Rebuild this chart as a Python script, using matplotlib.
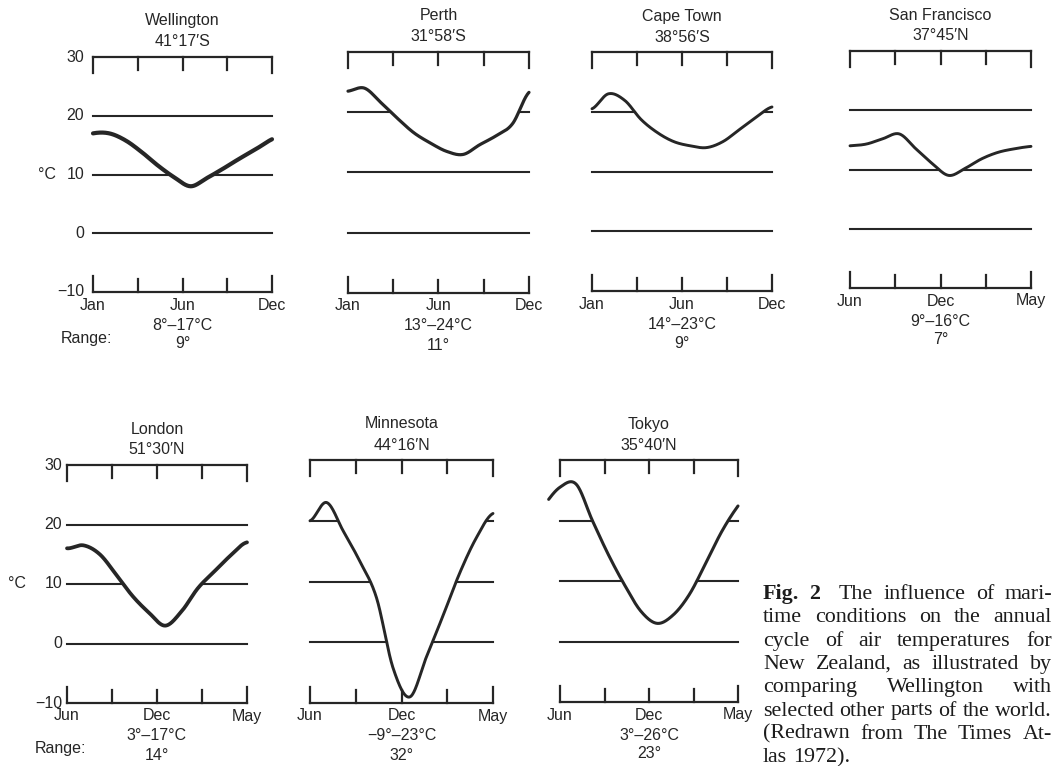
import numpy as np
import matplotlib
matplotlib.use("Agg")
import matplotlib.pyplot as plt
from matplotlib.transforms import offset_copy

# ---------------------------------------------------------------- data
cities = ["Wellington", "Perth", "Cape Town", "San Francisco",
          "London", "Minnesota", "Tokyo"]
latitudes = ["41°17′S", "31°58′S", "38°56′S", "37°45′N",
             "51°30′N", "44°16′N", "35°40′N"]
south_months = ["Jan", "Jun", "Dec"]
north_months = ["Jun", "Dec", "May"]
range_labels = ["8°–17°C", "13°–24°C", "14°–23°C", "9°–16°C",
                "3°–17°C", "−9°–23°C", "3°–26°C"]
range_spans = ["9°", "11°", "9°", "7°", "14°", "32°", "23°"]
y_tick_values = [30, 20, 10, 0, -10]
y_tick_labels = ["30", "20", "10", "0", "−10"]
grid_levels = [20, 10, 0]

# mean monthly air temperature (°C); southern stations run Jan..Dec,
# northern stations run Jun..May
wellington = [17, 17, 15.8, 13.8, 11.5, 9.5, 8, 9.4, 11, 12.7, 14.3, 16]
perth = [23.5, 24, 21.6, 19, 16.6, 14.9, 13.5, 13, 14.6, 16.1, 18.1, 23.3]
cape_town = [20.5, 23, 21.9, 18.7, 16.5, 15, 14.3, 14, 15, 17, 19, 20.8]
san_francisco = [14, 14.3, 15.2, 16, 13.5, 11, 9, 10.2, 11.8, 12.9, 13.5, 13.9]
london = [16, 16.5, 15, 11.6, 8.0, 5.2, 3, 5.4, 9.3, 12.1, 14.8, 17]
minnesota = [20, 23, 18.3, 13.3, 7.3, -4.3, -9, -2.4, 4.4, 11.4, 17.2, 21.2]
tokyo = [25.5, 26, 20, 14.3, 9.3, 5, 3, 4.4, 7.8, 12.9, 18.2, 22.4]

series = [wellington, perth, cape_town, san_francisco, london, minnesota, tokyo]
month_sets = [south_months] * 3 + [north_months] * 4

caption_lines = [
    "Fig. 2  The influence of mari-",
    "time conditions on the annual",
    "cycle of air temperatures for",
    "New Zealand, as illustrated by",
    "comparing Wellington with",
    "selected other parts of the world.",
    "(Redrawn from The Times At-",
    "las 1972).",
]

# -------------------------------------------------------------- layout
W, H = 1053, 766
# frame box of each panel in pixels: left, right, top (30°), bottom (-10°)
frames = [
    (93, 272, 57, 292),
    (348, 529, 52, 293),
    (592, 772, 52, 291),
    (850, 1031, 51, 288),
    (67, 247, 465, 703),
    (310, 493, 460, 703),
    (560, 738, 460, 702),
]
curve_widths = [3.0, 2.3, 2.1, 2.1, 2.7, 2.1, 2.2]
curve_lead = [0, 0, 0, 0, 0, 0, 0.7]      # months drawn before the frame
axis_panels = {0: (9, 46), 4: (5, 50)}     # label gap, °C offset (px)

INK = "#262626"
SANS = ["Liberation Sans", "DejaVu Sans"]
SERIF = ["Liberation Serif", "DejaVu Serif"]
FS = 11.5

fig = plt.figure(figsize=(W / 100, H / 100), dpi=100)
fig.patch.set_facecolor("white")


def shifted(ax, dx=0, dy=0):
    return offset_copy(ax.transData, fig=fig, x=dx, y=dy, units="dots")


def cycle_spline(vals, lead=0.0, per_seg=40):
    """Catmull-Rom curve through the monthly values, wrapped as an annual cycle."""
    v = np.asarray(vals, float)
    n = len(v)
    ext = np.concatenate([[v[-2], v[-1]], v, [v[0], v[1]]])
    xe = np.arange(-2, n + 2)
    xs, ys = [], []
    t = np.linspace(0, 1, per_seg, endpoint=False)
    for i in range(1, len(ext) - 2):
        p0, p1, p2, p3 = ext[i - 1], ext[i], ext[i + 1], ext[i + 2]
        y = 0.5 * (2 * p1 + (p2 - p0) * t
                   + (2 * p0 - 5 * p1 + 4 * p2 - p3) * t ** 2
                   + (3 * p1 - p0 - 3 * p2 + p3) * t ** 3)
        xs.append(xe[i] + t)
        ys.append(y)
    x = np.concatenate(xs)
    y = np.concatenate(ys)
    keep = (x >= -lead - 1e-9) & (x <= n - 1 + 1e-9)
    return x[keep], y[keep]


for k, (city, lat, vals, months, rl, rs) in enumerate(
        zip(cities, latitudes, series, month_sets, range_labels, range_spans)):
    x0, x1, yt, yb = frames[k]
    ax = fig.add_axes([x0 / W, 1 - yb / H, (x1 - x0) / W, (yb - yt) / H])
    ax.set_xlim(0, 11)
    ax.set_ylim(-10, 30)
    ax.axis("off")
    n = len(vals)
    xm = n - 1
    ticks = np.linspace(0, xm, 5)
    deg_per_px = 40 / (yb - yt)

    # frame lines with ticks at top (30) and bottom (-10)
    ax.plot([0, xm], [30, 30], color=INK, lw=1.6, clip_on=False,
            solid_capstyle="projecting")
    ax.plot([0, xm], [-10, -10], color=INK, lw=1.6, clip_on=False,
            solid_capstyle="projecting")
    for j, tx in enumerate(ticks):
        L = (16 if j in (0, 4) else 13) * deg_per_px
        ax.plot([tx, tx], [30, 30 - L], color=INK, lw=1.6, clip_on=False)
        ax.plot([tx, tx], [-10, -10 + L], color=INK, lw=1.6, clip_on=False)

    # reference lines, interrupted where the curve dips beneath them
    gx, gy = cycle_spline(vals, 0.0)
    for lev in grid_levels:
        below = gy < lev
        if below.all() or not below.any():
            ax.plot([0, xm], [lev, lev], color=INK, lw=1.5, clip_on=False)
        else:
            ax.plot(gx, np.where(below, np.nan, lev), color=INK, lw=1.5,
                    clip_on=False)

    # annual temperature cycle
    cx, cy = cycle_spline(vals, curve_lead[k])
    ax.plot(cx, cy, color=INK, lw=curve_widths[k], clip_on=False,
            solid_capstyle="round", solid_joinstyle="round", zorder=3)

    # titles
    ax.text(xm / 2, 30, city, transform=shifted(ax, 0, 36), ha="center",
            va="center", fontsize=FS, family=SANS, color=INK)
    ax.text(xm / 2, 30, lat, transform=shifted(ax, 0, 15), ha="center",
            va="center", fontsize=FS, family=SANS, color=INK)

    # month labels and range
    for tx, m in zip([0, xm / 2, xm], months):
        ax.text(tx, -10, m, transform=shifted(ax, 0, -13), ha="center",
                va="center", fontsize=FS, family=SANS, color=INK)
    ax.text(xm / 2, -10, rl, transform=shifted(ax, 0, -33), ha="center",
            va="center", fontsize=FS, family=SANS, color=INK)
    ax.text(xm / 2, -10, rs, transform=shifted(ax, 0, -52), ha="center",
            va="center", fontsize=FS, family=SANS, color=INK)

    if k in axis_panels:
        gap, cdx = axis_panels[k]
        for v, lab in zip(y_tick_values, y_tick_labels):
            ax.text(0, v, lab, transform=shifted(ax, -gap, 0), ha="right",
                    va="center", fontsize=FS, family=SANS, color=INK)
        ax.text(0, 10, "°C", transform=shifted(ax, -cdx, 0), ha="center",
                va="center", fontsize=FS, family=SANS, color=INK)
        ax.text(0, -10, "Range:", transform=shifted(ax, -7, -46), ha="center",
                va="center", fontsize=FS, family=SANS, color=INK)

# ---------------------------------------------------------------- caption
renderer = fig.canvas.get_renderer()


def text_width(s, size, weight="normal"):
    t = fig.text(0, 0, s, fontsize=size, family=SERIF, fontweight=weight)
    w = t.get_window_extent(renderer).width
    t.remove()
    return w


cap_x0, cap_x1 = 763, 1052
cap_base, cap_step = 599, 23.3
ref_line = caption_lines[5]
cap_fs = 10 * (cap_x1 - cap_x0) / text_width(ref_line, 10)
space_w = text_width("a a", cap_fs) - text_width("aa", cap_fs)

for i, line in enumerate(caption_lines):
    words = line.split()
    weights = ["bold" if (i == 0 and j < 2) else "normal"
               for j in range(len(words))]
    widths = [text_width(w, cap_fs, wt) for w, wt in zip(words, weights)]
    gaps = [1.0] * (len(words) - 1)
    if i == 0:
        gaps[1] = 1.8
    last = i == len(caption_lines) - 1
    if last:
        unit = space_w
    else:
        unit = (cap_x1 - cap_x0 - sum(widths)) / sum(gaps)
    x = cap_x0
    y = 1 - (cap_base + i * cap_step) / H
    for j, (w, wt, wd) in enumerate(zip(words, weights, widths)):
        fig.text(x / W, y, w, fontsize=cap_fs, family=SERIF, fontweight=wt,
                 va="baseline", ha="left", color="#1c1c1c")
        if j < len(gaps):
            x += wd + unit * gaps[j]

fig.savefig("out.png", dpi=100, facecolor="white")
